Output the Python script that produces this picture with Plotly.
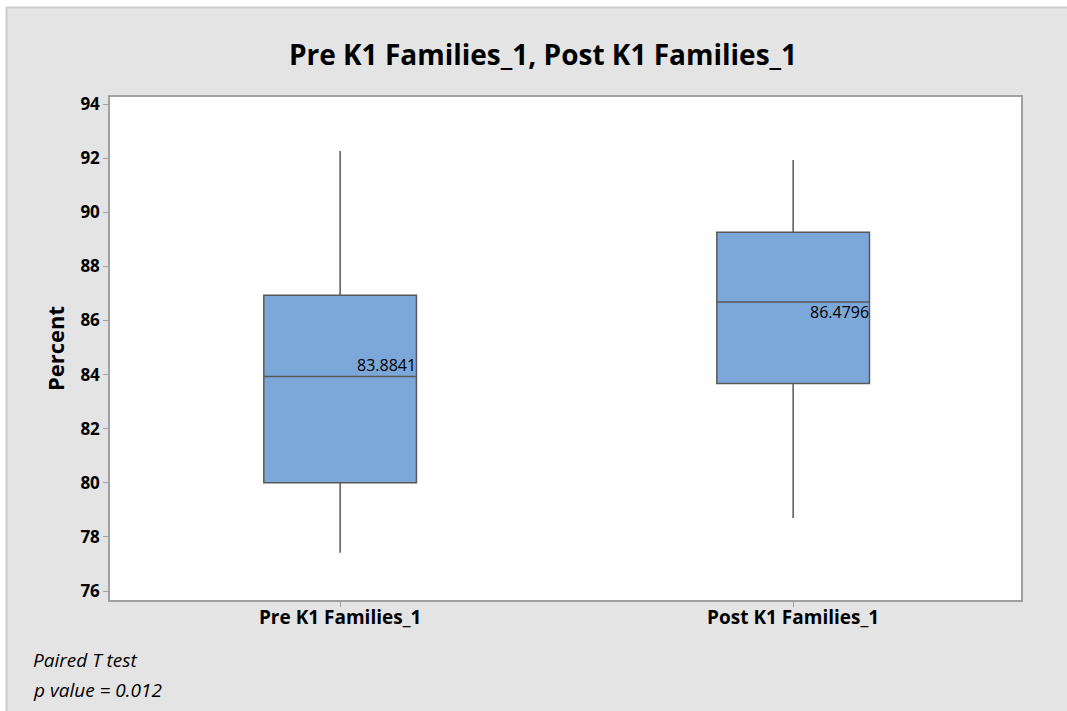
import plotly.graph_objects as go

categories = ["Pre K1 Families_1", "Post K1 Families_1"]
lower_whisker = [77.42, 78.70]
q1_values = [80.00, 83.67]
median_values = [83.93, 86.68]
q3_values = [86.93, 89.26]
upper_whisker = [92.26, 91.93]
median_labels = ["83.8841", "86.4796"]
y_ticks = [76, 78, 80, 82, 84, 86, 88, 90, 92, 94]

FONT = "Open Sans"
fig = go.Figure()
fig.add_trace(go.Box(
    x=categories,
    q1=q1_values, median=median_values, q3=q3_values,
    lowerfence=lower_whisker, upperfence=upper_whisker,
    fillcolor="#7ba7d9",
    line=dict(color="#595959", width=1.5),
    whiskerwidth=0,
    width=0.337,
    boxpoints=False,
    showlegend=False,
    hoverinfo="skip",
))

# median labels: first above the line, second below
anchors = ["bottom", "top"]
shifts = [-1, 3]
for cat, med, lab, ya, ys in zip(categories, median_values, median_labels, anchors, shifts):
    fig.add_annotation(x=cat, y=med, text=lab, showarrow=False,
                       xanchor="right", yanchor=ya, xshift=78, yshift=ys,
                       font=dict(family=FONT, size=16, color="#000000"))

# plot-area geometry in pixels, for outer frame shapes
L, R, T, B = 110, 1021, 97, 600
W, H = R - L, B - T
def px(x):
    return (x - L) / W
def py(y):
    return (B - y) / H

fig.add_shape(type="rect", xref="paper", yref="paper",
              x0=px(-20), x1=px(6), y0=py(-20), y1=py(730),
              fillcolor="white", line=dict(width=0), layer="below")
fig.add_shape(type="rect", xref="paper", yref="paper",
              x0=px(-20), x1=px(1090), y0=py(7), y1=py(-20),
              fillcolor="white", line=dict(width=0), layer="below")
fig.add_shape(type="line", xref="paper", yref="paper",
              x0=px(6), x1=px(1090), y0=py(7.5), y1=py(7.5),
              line=dict(color="#cccccc", width=2), layer="below")
fig.add_shape(type="line", xref="paper", yref="paper",
              x0=px(6.5), x1=px(6.5), y0=py(7), y1=py(730),
              line=dict(color="#cccccc", width=2), layer="below")

fig.add_annotation(xref="paper", yref="paper", x=px(31), y=py(660),
                   text="<i>Paired T test</i>", showarrow=False,
                   xanchor="left", yanchor="middle",
                   font=dict(family=FONT, size=19, color="#000000"))
fig.add_annotation(xref="paper", yref="paper", x=px(31), y=py(690),
                   text="<i>p value = 0.012</i>", showarrow=False,
                   xanchor="left", yanchor="middle",
                   font=dict(family=FONT, size=19, color="#000000"))

fig.update_layout(
    width=1067, height=711,
    margin=dict(l=L, r=1067 - R, t=T, b=711 - B),
    paper_bgcolor="#e4e4e4",
    plot_bgcolor="#ffffff",
    title=dict(text="Pre K1 Families_1, Post K1 Families_1",
               x=543 / 1067, xanchor="center", xref="container",
               y=1 - 55 / 711, yanchor="middle", yref="container",
               font=dict(family=FONT, size=28, color="#000000", weight="bold")),
    xaxis=dict(
        type="category", range=[-0.508, 1.503],
        showline=True, linecolor="#a0a0a0", linewidth=1.5, mirror=True,
        ticks="outside", ticklen=5, tickcolor="#a0a0a0",
        ticklabelstandoff=-6,
        showgrid=False, zeroline=False,
        tickfont=dict(family=FONT, size=19, color="#000000", weight="bold"),
    ),
    yaxis=dict(
        range=[75.67, 94.26], tickvals=y_ticks,
        showline=True, linecolor="#a0a0a0", linewidth=1.5, mirror=True,
        ticks="outside", ticklen=5, tickcolor="#a0a0a0",
        showgrid=False, zeroline=False,
        tickfont=dict(family=FONT, size=17, color="#000000", weight="bold"),
        title=dict(text="Percent", standoff=10,
                   font=dict(family=FONT, size=22, color="#000000", weight="bold")),
    ),
)

fig.write_html("out.html")
